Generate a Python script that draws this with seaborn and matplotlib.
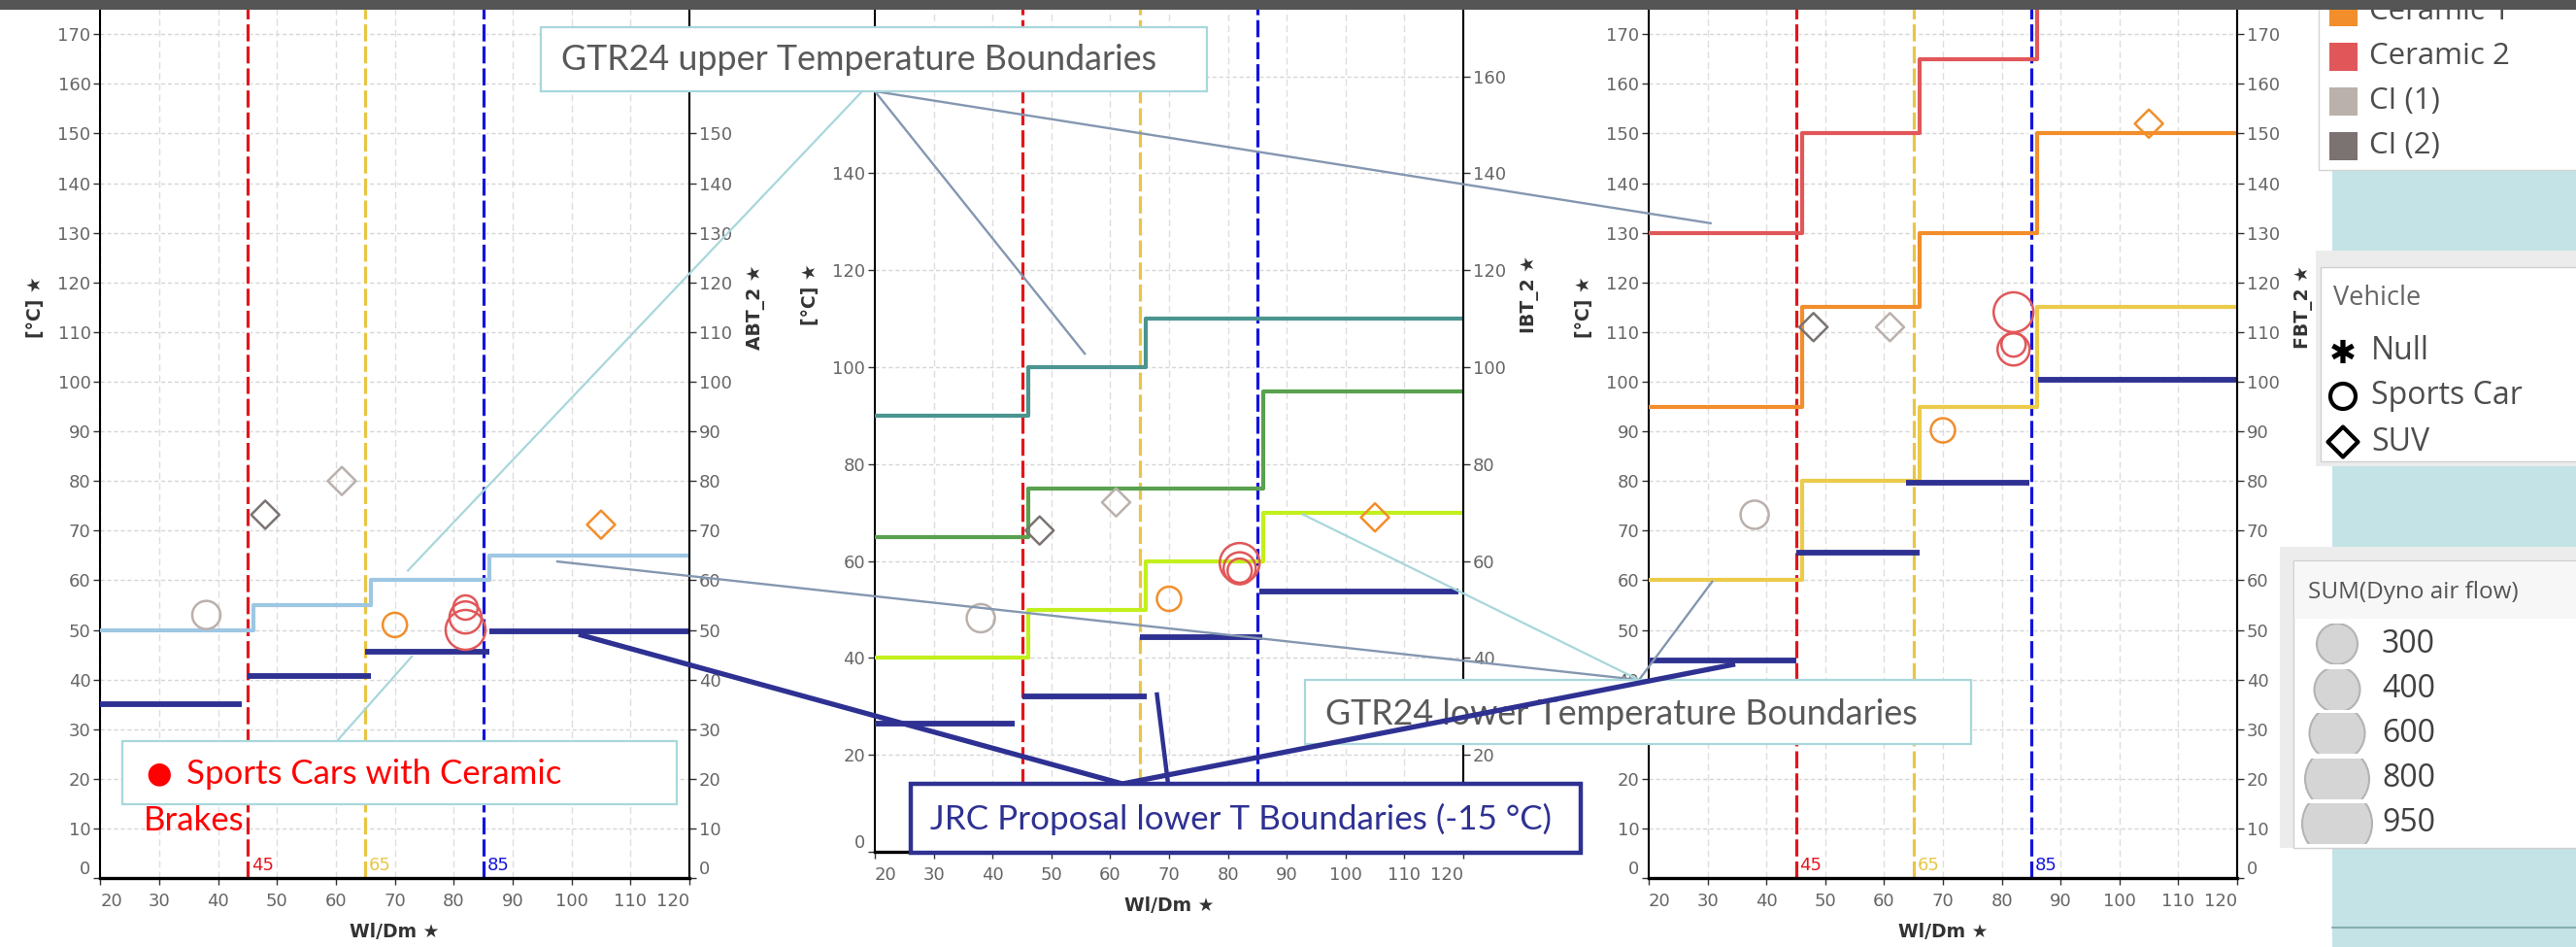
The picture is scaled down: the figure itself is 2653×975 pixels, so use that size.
import numpy as np
import pandas as pd
import matplotlib
matplotlib.use("Agg")
import matplotlib.pyplot as plt
import seaborn as sns
from matplotlib.patches import Rectangle, Ellipse
from matplotlib.path import Path

W, H = 2653, 975

# ---------------- data ----------------
step_x = [20, 46, 66, 86, 120]

abt_gtr = [50, 55, 60, 65]
ibt_teal = [90, 100, 110, 110]
ibt_green = [65, 75, 75, 95]
ibt_lime = [40, 50, 60, 70]
fbt_yellow = [60, 80, 95, 115]
fbt_orange = [95, 115, 130, 150]
fbt_red = [130, 150, 165, 180]

# JRC proposal lower T boundaries (-15 °C)
abt_jrc_from = [20, 45, 65, 86]
abt_jrc_to = [44, 66, 86, 120]
abt_jrc = [35, 40.7, 45.6, 49.7]
ibt_jrc_from = [20, 45, 65, 85.3]
ibt_jrc_to = [43.8, 66.2, 85.8, 119.2]
ibt_jrc = [26.4, 32, 44.2, 53.8]
fbt_jrc_from = [20, 45, 63.8, 86.2]
fbt_jrc_to = [45, 66, 84.7, 120]
fbt_jrc = [43.8, 65.5, 79.7, 100.4]

bound_x = [45, 65, 85]

# tests
test_wldm = [38, 48, 61, 70, 82, 82, 82, 105]
test_brake = ["CI (1)", "CI (2)", "CI (1)", "Ceramic 1",
              "Ceramic 2", "Ceramic 2", "Ceramic 2", "Ceramic 1"]
test_vehicle = ["Sports Car", "SUV", "SUV", "Sports Car",
                "Sports Car", "Sports Car", "Sports Car", "SUV"]
test_airflow = [400, 400, 400, 300, 950, 300, 600, 400]
test_abt = [53, 73.2, 80, 51, 50, 54.5, 52.5, 71.2]
test_ibt = [48.2, 66.3, 72.1, 52.2, 59.6, 58, 58.5, 69]
test_fbt = [73.2, 111, 111, 90.2, 114, 107.5, 106.5, 152]

brake_names = ["Ceramic 1", "Ceramic 2", "CI (1)", "CI (2)"]
vehicle_names = ["Null", "Sports Car", "SUV"]
airflow_levels = [300, 400, 600, 800, 950]

# ---------------- style ----------------
sns.set_style("white")
plt.rcParams["font.family"] = ["DejaVu Sans"]

brake_pal = {"Ceramic 1": "#f28e2b", "Ceramic 2": "#e15759",
             "CI (1)": "#bab0ac", "CI (2)": "#7a7371"}
diamond = Path([(0, 1), (1, 0), (0, -1), (-1, 0), (0, 1)], closed=True)
veh_markers = {"Sports Car": "o", "SUV": diamond}
size_px = dict(zip(airflow_levels, [25, 29, 33, 37, 41]))
size_map = {k: (0.72 * v) ** 2 for k, v in size_px.items()}
bound_colors = ["#e3151c", "#e8c547", "#1414dc"]
NAVY = "#2e3192"
TEAL_EDGE = "#a8d7db"
GREYBLUE = "#8497b0"

tests = pd.DataFrame({"wldm": test_wldm, "brake": test_brake,
                      "vehicle": test_vehicle, "airflow": test_airflow,
                      "ABT": test_abt, "IBT": test_ibt, "FBT": test_fbt})

fig = plt.figure(figsize=(W / 100, H / 100), dpi=100)


def px_rect(left, bottom, width, height):
    return [left / W, (H - bottom) / H, width / W, height / H]


def panel(rect, ystep, ylim_top, right_label, col, steps, jrc):
    ax = fig.add_axes(rect)
    ax.set_xlim(20, 120)
    ax.set_ylim(0, ylim_top)
    yt = np.arange(0, 171, ystep)
    ax.set_yticks(yt)
    ax.set_xticks(np.arange(20, 121, 10))
    ax.grid(axis="y", color="#d6d6d6", lw=1, ls=(0, (3, 2)), zorder=0)
    ax.grid(axis="x", color="#dedede", lw=1, ls=(0, (5, 3)), zorder=0)
    ax.spines["top"].set_visible(False)
    for s in ["left", "right"]:
        ax.spines[s].set_color("black")
        ax.spines[s].set_linewidth(1.5)
    ax.spines["bottom"].set_color("black")
    ax.spines["bottom"].set_linewidth(2.4)
    ax.tick_params(axis="both", which="both", length=5, width=1, color="#333333",
                   labelsize=13, labelcolor="#666666", pad=2, left=True, bottom=True)
    ax.tick_params(axis="x", pad=6)

    # boundary lines
    for bx, bc in zip(bound_x, bound_colors):
        ax.axvline(bx, color="white", lw=4.5, zorder=1.5)
        ax.axvline(bx, color=bc, lw=2.3, dashes=(5.5, 1.6), zorder=1.6)
        ax.text(bx + 0.6, 2.6, str(bx), color=bc, fontsize=13,
                va="center", ha="left", zorder=1.7)

    # GTR24 step lines
    for vals, c in steps:
        sns.lineplot(x=step_x, y=list(vals) + [vals[-1]], drawstyle="steps-post",
                     color=c, linewidth=3.0, ax=ax, estimator=None, sort=False,
                     zorder=3)

    # JRC proposal segments
    j_from, j_to, j_val = jrc
    ax.hlines(j_val, j_from, j_to, color=NAVY, lw=4.2, zorder=3.5)

    sns.scatterplot(data=tests, x="wldm", y=col, hue="brake", style="vehicle",
                    size="airflow", palette=brake_pal, markers=veh_markers,
                    sizes=size_map, legend=False, ax=ax, zorder=4)
    coll = ax.collections[-1]
    coll.set_edgecolors(coll.get_facecolors())
    coll.set_facecolors("none")
    coll.set_linewidth(1.8)

    ax.set_xlabel("Wl/Dm \u2605", fontsize=13.5, fontweight="bold",
                  color="#333333", labelpad=9)
    ax.set_ylabel("[\u00b0C] \u2605", fontsize=13.5, fontweight="bold",
                  color="#333333")
    ax.yaxis.set_label_coords(-0.094, 0.5)

    ax2 = ax.twinx()
    ax2.set_ylim(0, ylim_top)
    ax2.set_yticks(yt)
    for s in ["top", "left", "bottom"]:
        ax2.spines[s].set_visible(False)
    ax2.spines["right"].set_color("black")
    ax2.spines["right"].set_linewidth(1.5)
    ax2.tick_params(axis="y", length=5, width=1, color="#333333",
                    labelsize=13, labelcolor="#666666", pad=2, right=True)
    ax2.set_ylabel(right_label + " \u2605", fontsize=13.5, fontweight="bold",
                   color="#333333")
    ax2.yaxis.set_label_coords(1.097, 0.5)

    xl = ax.get_xticklabels()
    xl[0].set_ha("left")
    xl[-1].set_ha("right")
    ax.get_yticklabels()[0].set_va("bottom")
    ax2.get_yticklabels()[0].set_va("bottom")
    return ax


axL = panel(px_rect(103.3, 904, 606.7, 230 * 5.11), 10, 230, "ABT_2", "ABT",
            [(abt_gtr, "#9ec7e3")], (abt_jrc_from, abt_jrc_to, abt_jrc))
axM = panel(px_rect(901, 877, 606, 230 * 4.99), 20, 230, "IBT_2", "IBT",
            [(ibt_teal, "#4a9590"), (ibt_green, "#59a14f"), (ibt_lime, "#c2f01c")],
            (ibt_jrc_from, ibt_jrc_to, ibt_jrc))
axR = panel(px_rect(1698, 904, 606, 230 * 5.11), 10, 230, "FBT_2", "FBT",
            [(fbt_red, "#e15759"), (fbt_orange, "#f28e2b"), (fbt_yellow, "#eccb4b")],
            (fbt_jrc_from, fbt_jrc_to, fbt_jrc))

# ---------------- slide overlay (annotations, legends) ----------------
ov = fig.add_axes([0, 0, 1, 1], zorder=20)
ov.set_xlim(0, W)
ov.set_ylim(H, 0)
ov.axis("off")


def px(ax, x, y):
    dx, dy = ax.transData.transform((x, y))
    return dx, H - dy


def seg(p0, p1, color, lw, z=2):
    ov.plot([p0[0], p1[0]], [p0[1], p1[1]], color=color, lw=lw, zorder=z,
            solid_capstyle="butt")


def box(x0, y0, x1, y1, ec, lw, z=3, fc="white"):
    ov.add_patch(Rectangle((x0, y0), x1 - x0, y1 - y0, fc=fc, ec=ec, lw=lw, zorder=z))


ANN = ["Lato", "DejaVu Sans"]
LEG = ["Open Sans", "DejaVu Sans"]

# callout lines
seg((888, 94), px(axL, 72.1, 61.8), TEAL_EDGE, 1.6)
seg((347, 763), px(axL, 73.0, 44.8), TEAL_EDGE, 1.6)
seg((901, 94), px(axM, 55.8, 102.6), GREYBLUE, 1.7)
seg((901, 94), px(axR, 30.7, 131.9), GREYBLUE, 1.7)
seg(px(axL, 97.4, 63.8), (1688, 700), GREYBLUE, 1.7)
seg((1688, 700), px(axR, 30.9, 59.9), GREYBLUE, 1.7)
seg(px(axM, 92.6, 69.7), (1688, 700), TEAL_EDGE, 1.6)
seg(px(axL, 101.2, 49.1), (1156, 807), NAVY, 3.8, z=4)
seg((1156, 807), px(axR, 34.7, 43.1), NAVY, 3.8, z=4)
seg(px(axM, 67.9, 32.9), (1203, 807), NAVY, 3.2, z=4)

# text boxes
box(557, 28, 1243, 94, TEAL_EDGE, 1.6)
ov.text(578, 62, "GTR24 upper Temperature Boundaries", family=ANN, fontsize=25.8,
        color="#595959", va="center", ha="left", zorder=5)
box(126, 763, 697, 828, TEAL_EDGE, 1.6)
ov.text(164, 797, "\u25cf", family=["DejaVu Sans"], fontsize=22, color="red",
        va="center", ha="center", zorder=5)
ov.text(192, 797, "Sports Cars with Ceramic", family=ANN, fontsize=25,
        color="red", va="center", ha="left", zorder=5)
ov.text(148, 845, "Brakes", family=ANN, fontsize=25, color="red",
        va="center", ha="left", zorder=5)
box(1344, 700, 2030, 766, TEAL_EDGE, 1.6)
ov.text(1365, 735, "GTR24 lower Temperature Boundaries", family=ANN, fontsize=25.8,
        color="#595959", va="center", ha="left", zorder=3.5)
box(938, 807, 1628, 878, NAVY, 3.2, z=4.5)
ov.text(958, 843, "JRC Proposal lower T Boundaries (-15 \u00b0C)", family=ANN,
        fontsize=25.2, color=NAVY, va="center", ha="left", zorder=5)

# header bar
ov.add_patch(Rectangle((0, 0), W, 10, fc="#555555", ec="none", zorder=10))

# legend background
ov.add_patch(Rectangle((2402, 0), W - 2402, H, fc="#c4e3e6", ec="none", zorder=1))
ov.plot([2402, W], [955, 955], color="#86aeb1", lw=1.5, zorder=1.2)

# brake legend
box(2388, -5, W + 5, 175, "#d4d4d4", 1, z=2)
for i, name in enumerate(brake_names):
    yc = 12 + 46 * i
    ov.add_patch(Rectangle((2399, yc - 14), 29, 29, fc=brake_pal[name], ec="none", zorder=3))
    ov.text(2440, yc, name, family=LEG, fontsize=22.5, color="#4d4d4d",
            va="center", ha="left", zorder=3)

# vehicle legend
box(2385, 258, W + 5, 480, "none", 0, z=2, fc="#ececec")
box(2390, 275, W + 5, 475, "#d0d0d0", 1, z=2.1)
ov.text(2403, 307, "Vehicle", family=LEG, fontsize=19.5, color="#666666",
        va="center", ha="left", zorder=3)
veh_y = [362, 408, 455]
ov.text(2413, veh_y[0] + 2, "\u2731", family=["DejaVu Sans"], fontsize=24,
        color="black", va="center", ha="center", zorder=3)
ov.scatter([2413], [veh_y[1]], marker="o", s=(0.72 * 26) ** 2, facecolors="none",
           edgecolors="black", linewidths=3, zorder=3)
ov.scatter([2413], [veh_y[2]], marker=diamond, s=(0.72 * 31) ** 2, facecolors="none",
           edgecolors="black", linewidths=3, zorder=3)
for name, yc in zip(vehicle_names, veh_y):
    ov.text(2442, yc, name, family=LEG, fontsize=23, color="#4d4d4d",
            va="center", ha="left", zorder=3)

# size legend
box(2348, 563, W + 5, 873, "none", 0, z=2, fc="#ececec")
box(2362, 577, W + 5, 873, "#d0d0d0", 1, z=2.1)
box(2363, 578, W + 5, 637, "none", 0, z=2.2, fc="#f7f7f7")
ov.text(2377, 610, "SUM(Dyno air flow)", family=LEG, fontsize=17.5, color="#555555",
        va="center", ha="left", zorder=3)
leg_y = [663, 710, 755, 802, 848]
leg_d = [42, 47, 57, 66, 72]
for lvl, yc, d in zip(airflow_levels, leg_y, leg_d):
    clip = Rectangle((2370, yc - 21), 80, 42, transform=ov.transData)
    e = Ellipse((2407, yc), d, d, fc="#d5d5d5", ec="#b3b3b3", lw=1.5, zorder=3)
    ov.add_patch(e)
    e.set_clip_path(clip)
    ov.text(2453, yc, str(lvl), family=LEG, fontsize=23, color="#404040",
            va="center", ha="left", zorder=3)

fig.savefig("out.png", dpi=100)
